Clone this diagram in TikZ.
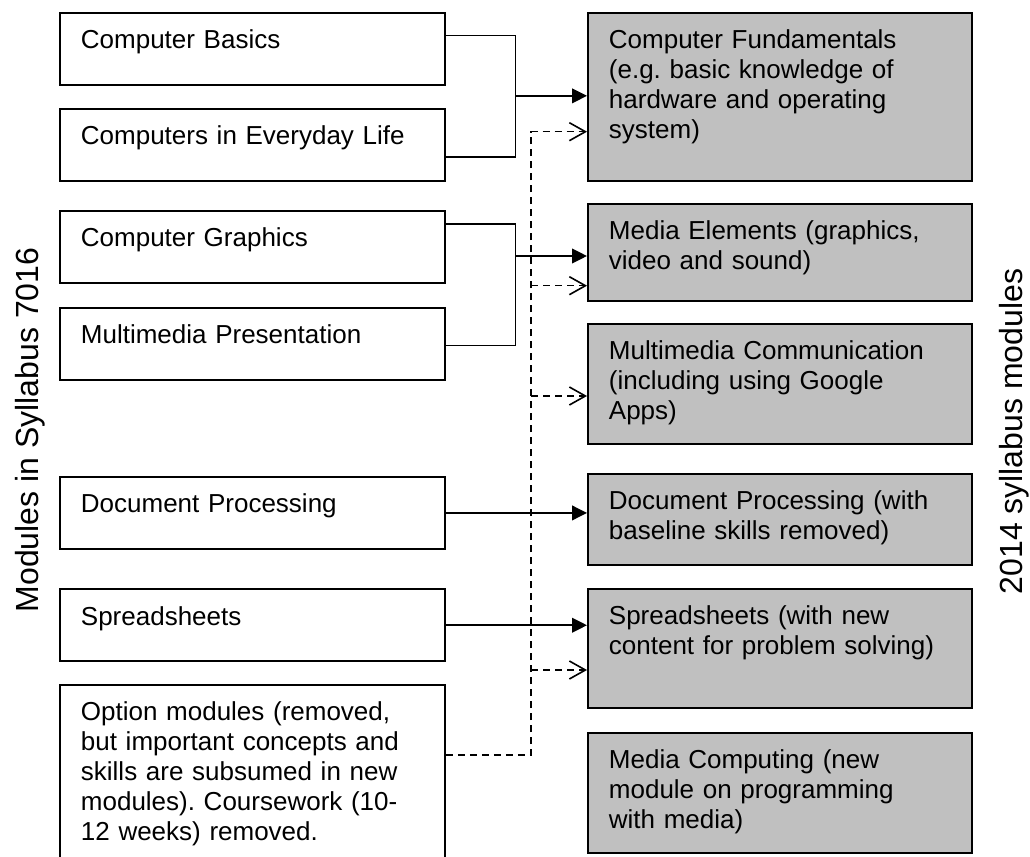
\documentclass[tikz,border=0pt]{standalone}
\usepackage{fontspec}
\setmainfont{Liberation Sans}
\usetikzlibrary{arrows.meta}
\definecolor{modgray}{RGB}{192,192,192}
\frenchspacing
\begin{document}
\begin{tikzpicture}[x=0.75pt, y=-0.75pt,
  every node/.style={font=\fontsize{19.5pt}{22.5pt}\selectfont},
  modbox/.style={draw=black, line width=1.4pt, anchor=north west,
    inner xsep=15.75pt, inner ysep=0pt, align=left, text height=27pt},
  oldmod/.style={modbox, fill=white, text width=257.25pt},
  newmod/.style={modbox, fill=modgray, text width=256.5pt},
  wire/.style={line width=1.1pt},
  link/.style={line width=1.4pt, -{Triangle[length=11.25pt,width=11pt]}},
  dwire/.style={line width=1.1pt, dash pattern=on 5.25pt off 3.75pt},
  dlink/.style={dwire, -{Straight Barb[length=12pt,width=13.5pt,line width=1.2pt]}},
  sidelabel/.style={rotate=90, anchor=base, font=\fontsize{24pt}{28pt}\selectfont}
]
\useasboundingbox (0,0) rectangle (1030,856);

% modules of the old syllabus
\node[oldmod, text depth=27pt] (cb)  at (59,11.7)  {Computer Basics};
\node[oldmod, text depth=27pt] (cel) at (59,108)   {Computers in Everyday Life};
\node[oldmod, text depth=27pt] (cg)  at (59,210)   {Computer Graphics};
\node[oldmod, text depth=27pt] (mp)  at (59,306.7) {Multimedia Presentation};
\node[oldmod, text depth=27pt] (dp)  at (59,476)   {Document Processing};
\node[oldmod, text depth=27pt] (sp)  at (59,588.3) {Spreadsheets};
\node[oldmod, text depth=103.5pt] (opt) at (59,684)
  {Option modules (removed,\\but important concepts and\\skills are subsumed in new\\modules). Coursework (10-\\12 weeks) removed.};

% modules of the new syllabus
\node[newmod, text depth=99.2pt] (cf)  at (587,11.7)
  {Computer Fundamentals\\(e.g. basic knowledge of\\hardware and operating\\system)};
\node[newmod, text depth=45.75pt] (me)  at (587,203)
  {Media Elements (graphics,\\video and sound)};
\node[newmod, text depth=63.2pt] (mc)  at (587,323)
  {Multimedia Communication\\(including using Google\\Apps)};
\node[newmod, text depth=41.5pt] (dp2) at (587,472.7)
  {Document Processing (with\\baseline skills removed)};
\node[newmod, text depth=62.7pt] (sp2) at (587,587.7)
  {Spreadsheets (with new\\content for problem solving)};
\node[newmod, text depth=63pt] (mcp) at (587,731.7)
  {Media Computing (new\\module on programming\\with media)};

% side captions
\node[sidelabel] (oldlbl) at (38,430)   {Modules in Syllabus 7016};
\node[sidelabel] (newlbl) at (1022,431.5) {2014 syllabus modules};

% direct mappings
\coordinate (j1) at (515.5,95.85);
\coordinate (j2) at (515.5,256);
\draw[wire] ([yshift=-18pt]cb.north east) -| (j1) |- ([yshift=18.5pt]cel.south east);
\draw[link] (j1) -- (j1 -| cf.west);
\draw[wire] ([yshift=-10.5pt]cg.north east) -| (j2) |- ([yshift=26.5pt]mp.south east);
\draw[link] (j2) -- (j2 -| me.west);
\draw[link] (dp.east) -- (dp.east -| dp2.west);
\draw[link] (sp.east) -- (sp.east -| sp2.west);

% option modules spread over the new modules
\coordinate (d1) at (531,131.7);
\coordinate (d2) at (531,285.7);
\coordinate (d3) at (531,396);
\coordinate (d4) at (531,670);
\draw[dlink] ([yshift=-53.25pt]opt.north east) -| (d1) -- (d1 -| cf.west);
\draw[dlink] (d2) -- (d2 -| me.west);
\draw[dlink] (d3) -- (d3 -| mc.west);
\draw[dlink] (d4) -- (d4 -| sp2.west);
\end{tikzpicture}
\end{document}
